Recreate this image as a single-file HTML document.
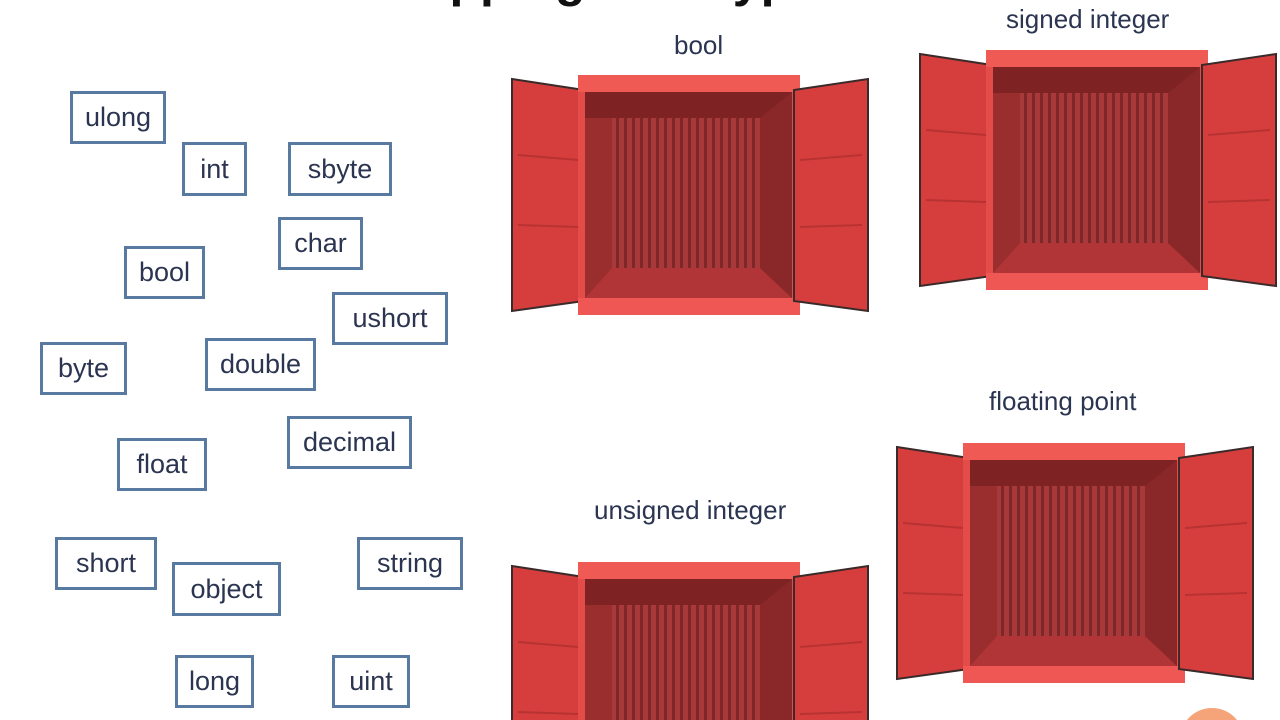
<!DOCTYPE html>
<html><head><meta charset="utf-8"><style>
html,body{margin:0;width:1280px;height:720px;overflow:hidden;background:#fff}
body{position:relative;font-family:"Liberation Sans Narrow","Liberation Sans",sans-serif}
.t{position:absolute;white-space:nowrap;color:#2b3450;font-size:26px}
.b{position:absolute;box-sizing:border-box;border:3px solid #587aa0;display:flex;align-items:center;justify-content:center;color:#2b3450;font-size:27px;background:#fff}
svg{position:absolute;left:0;top:0}
</style></head><body>
<div class="t" style="left:380px;top:-50px;font-size:50px;font-weight:bold;color:#111;font-family:'Liberation Sans',sans-serif">Mapping data types</div>
<svg width="1280" height="720">
<defs>
<pattern id="st" width="8" height="10" patternUnits="userSpaceOnUse"><rect width="8" height="10" fill="#a8393b"/><rect width="3" height="10" fill="#7f2629"/></pattern>
<g id="c">
<polygon points="0,4 72,15 72,226 0,236" fill="#d63e3e" stroke="#3a2a2a" stroke-width="2"/>
<line x1="6" y1="80" x2="66" y2="85" stroke="#b83232" stroke-width="2"/><line x1="6" y1="150" x2="66" y2="152" stroke="#b83232" stroke-width="2"/>
<rect x="66" y="0" width="222" height="240" fill="#e44c4a"/>
<rect x="73" y="17" width="207" height="206" fill="#9a2d2e"/>
<rect x="73" y="17" width="207" height="26" fill="#7e2224"/>
<rect x="100" y="43" width="148" height="150" fill="url(#st)"/>
<polygon points="73,223 100,193 248,193 280,223" fill="#b13436"/>
<polygon points="248,43 280,17 280,223 248,193" fill="#8a2728"/>
<rect x="66" y="0" width="222" height="17" fill="#ef5a55"/>
<rect x="66" y="223" width="222" height="17" fill="#ee5753"/>
<polygon points="282,15 356,4 356,236 282,226" fill="#d63e3e" stroke="#3a2a2a" stroke-width="2"/>
<line x1="288" y1="85" x2="350" y2="80" stroke="#b83232" stroke-width="2"/><line x1="288" y1="152" x2="350" y2="150" stroke="#b83232" stroke-width="2"/>
</g>
</defs>
<use href="#c" x="512" y="75"/>
<use href="#c" x="920" y="50"/>
<use href="#c" x="897" y="443"/>
<use href="#c" x="512" y="562"/>
<circle cx="1212" cy="740" r="32" fill="#f5a47a"/>
</svg>
<div class="t" style="left:674px;top:30px">bool</div>
<div class="t" style="left:1006px;top:4px">signed integer</div>
<div class="t" style="left:989px;top:386px">floating point</div>
<div class="t" style="left:594px;top:495px">unsigned integer</div>
<div class="b" style="left:70px;top:91px;width:96px;height:53px">ulong</div>
<div class="b" style="left:182px;top:142px;width:65px;height:54px">int</div>
<div class="b" style="left:288px;top:142px;width:104px;height:54px">sbyte</div>
<div class="b" style="left:278px;top:217px;width:85px;height:53px">char</div>
<div class="b" style="left:124px;top:246px;width:81px;height:53px">bool</div>
<div class="b" style="left:332px;top:292px;width:116px;height:53px">ushort</div>
<div class="b" style="left:40px;top:342px;width:87px;height:53px">byte</div>
<div class="b" style="left:205px;top:338px;width:111px;height:53px">double</div>
<div class="b" style="left:287px;top:416px;width:125px;height:53px">decimal</div>
<div class="b" style="left:117px;top:438px;width:90px;height:53px">float</div>
<div class="b" style="left:55px;top:537px;width:102px;height:53px">short</div>
<div class="b" style="left:172px;top:562px;width:109px;height:54px">object</div>
<div class="b" style="left:357px;top:537px;width:106px;height:53px">string</div>
<div class="b" style="left:175px;top:655px;width:79px;height:53px">long</div>
<div class="b" style="left:332px;top:655px;width:78px;height:53px">uint</div>
</body></html>
